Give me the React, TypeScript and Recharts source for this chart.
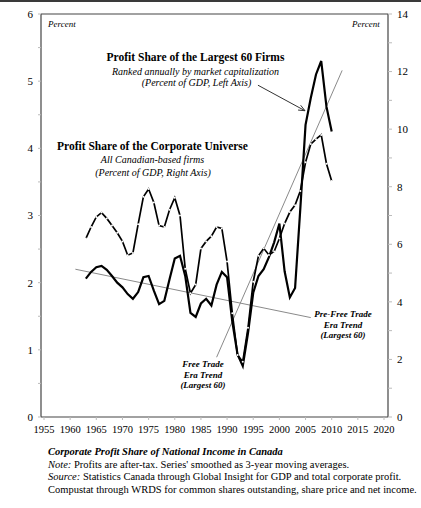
import { LineChart, Line, XAxis, YAxis, ReferenceLine } from "recharts";

const years = [
  1963, 1964, 1965, 1966, 1967, 1968, 1969, 1970, 1971, 1972, 1973, 1974,
  1975, 1976, 1977, 1978, 1979, 1980, 1981, 1982, 1983, 1984, 1985, 1986,
  1987, 1988, 1989, 1990, 1991, 1992, 1993, 1994, 1995, 1996, 1997, 1998,
  1999, 2000, 2001, 2002, 2003, 2004, 2005, 2006, 2007, 2008, 2009, 2010,
];

// Largest 60 firms, % of GDP (left axis)
const largest60 = [
  2.06, 2.16, 2.23, 2.25, 2.19, 2.1, 2.0, 1.93, 1.83, 1.76, 1.86, 2.08,
  2.1, 1.88, 1.68, 1.73, 2.05, 2.36, 2.4, 2.1, 1.55, 1.49, 1.69, 1.76,
  1.66, 1.97, 2.16, 2.08, 1.42, 0.93, 0.76, 1.25, 1.85, 2.1, 2.2, 2.38,
  2.6, 2.88, 2.17, 1.78, 1.92, 3.1, 4.35, 4.75, 5.1, 5.3, 4.62, 4.25,
];

// Corporate universe, % of GDP (right axis)
const corporate = [
  6.2, 6.6, 6.95, 7.1, 6.9, 6.65, 6.4, 6.1, 5.62, 5.7, 6.7, 7.65,
  7.92, 7.45, 6.65, 6.6, 7.2, 7.62, 7.0, 5.15, 4.3, 4.6, 5.85, 6.1,
  6.28, 6.6, 6.55, 5.4, 3.6, 2.15, 1.92, 3.1, 4.7, 5.6, 5.86, 5.63,
  5.75, 6.2, 6.72, 7.12, 7.36, 7.85, 8.85, 9.48, 9.65, 9.8, 8.8, 8.2,
];

// trend line end points (year, left-axis value)
const preTrendYears = [1961, 2006];
const preTrendValues = [2.2, 1.48];
const freeTrendYears = [1988, 2012];
const freeTrendValues = [0.89, 5.16];

const xTicks = [1955, 1960, 1965, 1970, 1975, 1980, 1985, 1990, 1995, 2000, 2005, 2010, 2015, 2020];
const leftTicks = [0, 0.5, 1, 1.5, 2, 2.5, 3, 3.5, 4, 4.5, 5, 5.5, 6];
const rightTicks = [0, 1, 2, 3, 4, 5, 6, 7, 8, 9, 10, 11, 12, 13, 14];

const data = years.map((year, i) => ({
  year,
  largest: largest60[i],
  corp: corporate[i],
}));

const preTrend = preTrendYears.map((year, i) => ({ year, trend: preTrendValues[i] }));
const freeTrend = freeTrendYears.map((year, i) => ({ year, trend: freeTrendValues[i] }));

const serif = "'Liberation Serif', 'Times New Roman', serif";
const tickStyle = { fontFamily: serif, fontSize: 11, fill: "#000" };

const Arrow = (props: any) => {
  const { x1, y1, x2, y2 } = props;
  const ang = Math.atan2(y2 - y1, x2 - x1);
  const len = 7;
  const a1 = ang + Math.PI - 0.4;
  const a2 = ang + Math.PI + 0.4;
  return (
    <g stroke="#333" strokeWidth={1} fill="none">
      <line x1={x1} y1={y1} x2={x2} y2={y2} />
      <line x1={x2} y1={y2} x2={x2 + len * Math.cos(a1)} y2={y2 + len * Math.sin(a1)} />
      <line x1={x2} y1={y2} x2={x2 + len * Math.cos(a2)} y2={y2 + len * Math.sin(a2)} />
    </g>
  );
};

function Label({ x, y, w, children, style }: any) {
  return (
    <div
      style={{
        position: "absolute",
        left: x - w / 2,
        top: y,
        width: w,
        textAlign: "center",
        fontFamily: serif,
        whiteSpace: "nowrap",
        color: "#000",
        ...style,
      }}
    >
      {children}
    </div>
  );
}

export default function App() {
  return (
    <div
      style={{
        position: "absolute",
        left: 0,
        top: 0,
        width: 421,
        height: 508,
        background: "#fff",
        overflow: "hidden",
      }}
    >
      <div style={{ position: "absolute", left: 0, top: 0, width: 421, height: 2, background: "#3a3a3a" }} />

      <LineChart
        width={421}
        height={440}
        data={data}
        margin={{ top: 14, right: 0, bottom: 0, left: 0 }}
      >
        <XAxis
          dataKey="year"
          type="number"
          domain={[1955, 2020]}
          ticks={xTicks}
          interval={0}
          padding={{ left: 3, right: 4 }}
          height={23}
          tick={{ ...tickStyle, fontSize: 10.5 }}
          tickSize={3}
          tickMargin={6}
          axisLine={{ stroke: "#444", strokeWidth: 1.2 }}
          tickLine={{ stroke: "#bbb" }}
          allowDataOverflow
        />
        <YAxis
          yAxisId="left"
          domain={[0, 6]}
          ticks={leftTicks}
          interval={0}
          width={41}
          tick={tickStyle}
          tickSize={3}
          tickMargin={5}
          tickFormatter={(v: number) => (Number.isInteger(v) ? String(v) : "")}
          axisLine={{ stroke: "#444", strokeWidth: 1.2 }}
          tickLine={{ stroke: "#bbb" }}
        />
        <YAxis
          yAxisId="right"
          orientation="right"
          domain={[0, 14]}
          ticks={rightTicks}
          interval={0}
          width={33}
          tick={{ ...tickStyle, textAnchor: "start" }}
          tickSize={4}
          tickMargin={5}
          tickFormatter={(v: number) => (v % 2 === 0 ? String(v) : "")}
          axisLine={{ stroke: "#444", strokeWidth: 1.2 }}
          tickLine={{ stroke: "#bbb" }}
        />
        <ReferenceLine yAxisId="left" y={6} stroke="#444" strokeWidth={1.2} />

        <Line
          yAxisId="left"
          data={preTrend}
          dataKey="trend"
          stroke="#8a8a8a"
          strokeWidth={1}
          dot={false}
          isAnimationActive={false}
        />
        <Line
          yAxisId="left"
          data={freeTrend}
          dataKey="trend"
          stroke="#8a8a8a"
          strokeWidth={1}
          dot={false}
          isAnimationActive={false}
        />
        <Line
          yAxisId="right"
          dataKey="corp"
          stroke="#000"
          strokeWidth={1.7}
          dot={{ r: 1, fill: "#fff", stroke: "none" }}
          isAnimationActive={false}
        />
        <Line
          yAxisId="left"
          dataKey="largest"
          stroke="#000"
          strokeWidth={2.2}
          dot={false}
          isAnimationActive={false}
        />
        <ReferenceLine
          yAxisId="left"
          segment={[
            { x: 1995.9, y: 4.94 },
            { x: 2004.9, y: 4.56 },
          ]}
          shape={Arrow}
        />
      </LineChart>

      <div style={{ position: "absolute", left: 48, top: 19, fontFamily: serif, fontStyle: "italic", fontSize: 9 }}>
        Percent
      </div>
      <div style={{ position: "absolute", left: 352, top: 19, fontFamily: serif, fontStyle: "italic", fontSize: 9 }}>
        Percent
      </div>

      <Label x={195.5} y={50} w={240} style={{ fontWeight: "bold", fontSize: 11.5, lineHeight: "14px" }}>
        Profit Share of the Largest 60 Firms
      </Label>
      <Label x={195.5} y={66} w={240} style={{ fontStyle: "italic", fontSize: 10, lineHeight: "12px" }}>
        Ranked annually by market capitalization
      </Label>
      <Label x={196.5} y={77} w={240} style={{ fontStyle: "italic", fontSize: 10, lineHeight: "12px" }}>
        (Percent of GDP, Left Axis)
      </Label>

      <Label x={152.5} y={139} w={240} style={{ fontWeight: "bold", fontSize: 11.5, lineHeight: "14px" }}>
        Profit Share of the Corporate Universe
      </Label>
      <Label x={152.5} y={154} w={240} style={{ fontStyle: "italic", fontSize: 10, lineHeight: "12px" }}>
        All Canadian-based firms
      </Label>
      <Label x={153} y={167} w={240} style={{ fontStyle: "italic", fontSize: 10, lineHeight: "12px" }}>
        (Percent of GDP, Right Axis)
      </Label>

      <Label x={343} y={309} w={100} style={{ fontStyle: "italic", fontWeight: "bold", fontSize: 9, lineHeight: "10.6px" }}>
        Pre-Free Trade
        <br />
        Era Trend
        <br />
        (Largest 60)
      </Label>
      <Label x={203} y={359} w={100} style={{ fontStyle: "italic", fontWeight: "bold", fontSize: 9, lineHeight: "10.6px" }}>
        Free Trade
        <br />
        Era Trend
        <br />
        (Largest 60)
      </Label>

      <div
        style={{
          position: "absolute",
          left: 48,
          top: 446,
          fontFamily: serif,
          fontSize: 10.5,
          lineHeight: "12.7px",
          color: "#000",
          whiteSpace: "nowrap",
        }}
      >
        <div style={{ fontWeight: "bold", fontStyle: "italic" }}>
          Corporate Profit Share of National Income in Canada
        </div>
        <div>
          <i>Note:</i> Profits are after-tax. Series' smoothed as 3-year moving averages.
        </div>
        <div>
          <i>Source:</i> Statistics Canada through Global Insight for GDP and total corporate profit.
        </div>
        <div>
          Compustat through WRDS for common shares outstanding, share price and net income.
        </div>
      </div>
    </div>
  );
}
